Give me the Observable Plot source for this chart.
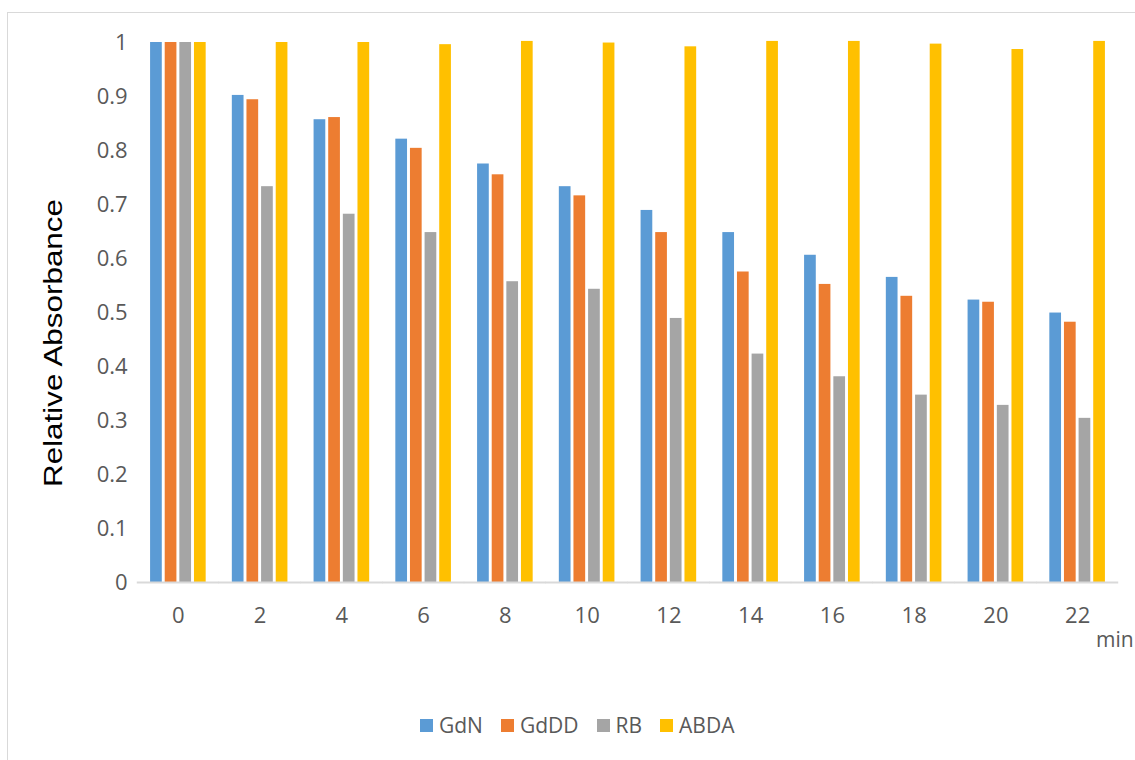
<!DOCTYPE html>
<html>
<head>
<meta charset="utf-8">
<script src="https://cdn.jsdelivr.net/npm/d3@7"></script>
<script src="https://cdn.jsdelivr.net/npm/@observablehq/plot@0.6"></script>
<style>
  html, body { margin: 0; padding: 0; background: #fff; width: 1135px; height: 760px; overflow: hidden; position: relative; }
  #frame { position: absolute; left: 7px; top: 12px; width: 1300px; height: 900px; border: 1.5px solid #d9d9d9; box-sizing: border-box; }
  #chart { position: absolute; left: 0; top: 0; }
  #ylabel { position: absolute; left: 0; top: 0; }
  #unit { position: absolute; left: 1096px; top: 625px; font: 21px "Open Sans", sans-serif; color: #595959; white-space: nowrap; }
  #legend { position: absolute; left: 420px; top: 711px; display: flex; gap: 18px; font: 21px "Open Sans", sans-serif; color: #595959; align-items: center; }
  #legend .item { display: flex; align-items: center; gap: 6px; }
  #legend .sw { width: 13px; height: 13px; display: inline-block; }
</style>
</head>
<body>
<div id="frame"></div>
<div id="chart"></div>
<svg id="ylabel" width="100" height="760">
  <text transform="translate(62,343) rotate(-90)" text-anchor="middle" textLength="288" lengthAdjust="spacingAndGlyphs" font-family="Liberation Sans, Arial, sans-serif" font-size="25" fill="#000">Relative Absorbance</text>
</svg>
<div id="unit">min</div>
<div id="legend"></div>
<script>
const times = ["0", "2", "4", "6", "8", "10", "12", "14", "16", "18", "20", "22"];
const seriesNames = ["GdN", "GdDD", "RB", "ABDA"];
const seriesColors = ["#5B9BD5", "#ED7D31", "#A5A5A5", "#FFC000"];
const GdN  = [1, 0.902, 0.857, 0.821, 0.775, 0.733, 0.689, 0.648, 0.606, 0.565, 0.523, 0.499];
const GdDD = [1, 0.894, 0.861, 0.804, 0.755, 0.716, 0.648, 0.575, 0.552, 0.530, 0.519, 0.482];
const RB   = [1, 0.733, 0.682, 0.648, 0.557, 0.543, 0.489, 0.423, 0.381, 0.347, 0.328, 0.304];
const ABDA = [1, 1.000, 1.000, 0.996, 1.002, 0.999, 0.992, 1.002, 1.002, 0.997, 0.987, 1.002];
const yTicks = [0, 0.1, 0.2, 0.3, 0.4, 0.5, 0.6, 0.7, 0.8, 0.9, 1];

const seriesValues = {GdN, GdDD, RB, ABDA};
const data = [];
times.forEach((t, i) => {
  seriesNames.forEach(s => data.push({t, series: s, value: seriesValues[s][i]}));
});

const chart = Plot.plot({
  width: 1135,
  height: 660,
  marginLeft: 137,
  marginRight: 17,
  marginTop: 42,
  marginBottom: 78,
  style: {fontFamily: "'Open Sans', sans-serif", fontSize: "22px", color: "#595959", background: "transparent"},
  fx: {domain: times, paddingInner: 0.32, paddingOuter: 0.16, round: false, axis: "bottom", tickSize: 0, tickPadding: 25, label: null},
  x: {domain: seriesNames, paddingInner: 0.2, paddingOuter: 0, round: false, axis: null},
  y: {domain: [0, 1], ticks: yTicks, tickFormat: d => String(d), tickSize: 0, tickPadding: 23, label: null},
  color: {domain: seriesNames, range: seriesColors},
  marks: [
    Plot.barY(data, {fx: "t", x: "series", y: "value", fill: "series"}),
    Plot.ruleY([0], {stroke: "#d9d9d9", strokeWidth: 2, insetLeft: -13.3, insetRight: -13.3})
  ]
});
document.getElementById("chart").appendChild(chart);

const legend = document.getElementById("legend");
seriesNames.forEach((s, i) => {
  const item = document.createElement("div");
  item.className = "item";
  const sw = document.createElement("span");
  sw.className = "sw";
  sw.style.background = seriesColors[i];
  const lab = document.createElement("span");
  lab.textContent = s;
  item.appendChild(sw);
  item.appendChild(lab);
  legend.appendChild(item);
});
</script>
</body>
</html>
